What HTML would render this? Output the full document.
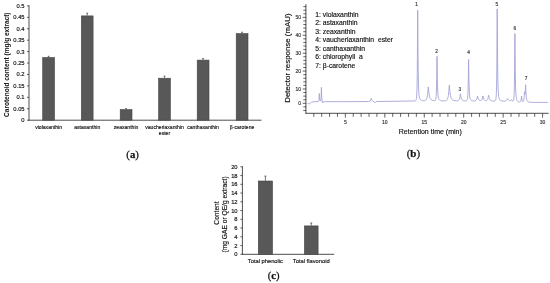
<!DOCTYPE html>
<html><head><meta charset="utf-8"><style>
html,body{margin:0;padding:0;background:#fff;}
body{width:550px;height:283px;overflow:hidden;}
svg{display:block;filter:blur(0.3px);}
</style></head><body>
<svg width="550" height="283" viewBox="0 0 550 283">
<rect width="550" height="283" fill="#fff"/>
<line x1="29.00" y1="5.20" x2="29.00" y2="120.70" stroke="#3a3a3a" stroke-width="0.9"/>
<line x1="28.50" y1="120.20" x2="261.50" y2="120.20" stroke="#3a3a3a" stroke-width="0.9"/>
<line x1="27.00" y1="120.20" x2="29.00" y2="120.20" stroke="#3a3a3a" stroke-width="0.8"/>
<text x="24.60" y="122.20" font-family="Liberation Sans" font-size="5.8" font-weight="400" text-anchor="end" fill="#111" stroke="#111" stroke-width="0.15">0</text>
<line x1="27.00" y1="108.77" x2="29.00" y2="108.77" stroke="#3a3a3a" stroke-width="0.8"/>
<text x="24.60" y="110.77" font-family="Liberation Sans" font-size="5.8" font-weight="400" text-anchor="end" fill="#111" stroke="#111" stroke-width="0.15">0.05</text>
<line x1="27.00" y1="97.34" x2="29.00" y2="97.34" stroke="#3a3a3a" stroke-width="0.8"/>
<text x="24.60" y="99.34" font-family="Liberation Sans" font-size="5.8" font-weight="400" text-anchor="end" fill="#111" stroke="#111" stroke-width="0.15">0.1</text>
<line x1="27.00" y1="85.91" x2="29.00" y2="85.91" stroke="#3a3a3a" stroke-width="0.8"/>
<text x="24.60" y="87.91" font-family="Liberation Sans" font-size="5.8" font-weight="400" text-anchor="end" fill="#111" stroke="#111" stroke-width="0.15">0.15</text>
<line x1="27.00" y1="74.48" x2="29.00" y2="74.48" stroke="#3a3a3a" stroke-width="0.8"/>
<text x="24.60" y="76.48" font-family="Liberation Sans" font-size="5.8" font-weight="400" text-anchor="end" fill="#111" stroke="#111" stroke-width="0.15">0.2</text>
<line x1="27.00" y1="63.05" x2="29.00" y2="63.05" stroke="#3a3a3a" stroke-width="0.8"/>
<text x="24.60" y="65.05" font-family="Liberation Sans" font-size="5.8" font-weight="400" text-anchor="end" fill="#111" stroke="#111" stroke-width="0.15">0.25</text>
<line x1="27.00" y1="51.62" x2="29.00" y2="51.62" stroke="#3a3a3a" stroke-width="0.8"/>
<text x="24.60" y="53.62" font-family="Liberation Sans" font-size="5.8" font-weight="400" text-anchor="end" fill="#111" stroke="#111" stroke-width="0.15">0.3</text>
<line x1="27.00" y1="40.19" x2="29.00" y2="40.19" stroke="#3a3a3a" stroke-width="0.8"/>
<text x="24.60" y="42.19" font-family="Liberation Sans" font-size="5.8" font-weight="400" text-anchor="end" fill="#111" stroke="#111" stroke-width="0.15">0.35</text>
<line x1="27.00" y1="28.76" x2="29.00" y2="28.76" stroke="#3a3a3a" stroke-width="0.8"/>
<text x="24.60" y="30.76" font-family="Liberation Sans" font-size="5.8" font-weight="400" text-anchor="end" fill="#111" stroke="#111" stroke-width="0.15">0.4</text>
<line x1="27.00" y1="17.33" x2="29.00" y2="17.33" stroke="#3a3a3a" stroke-width="0.8"/>
<text x="24.60" y="19.33" font-family="Liberation Sans" font-size="5.8" font-weight="400" text-anchor="end" fill="#111" stroke="#111" stroke-width="0.15">0.45</text>
<line x1="27.00" y1="5.90" x2="29.00" y2="5.90" stroke="#3a3a3a" stroke-width="0.8"/>
<text x="24.60" y="7.90" font-family="Liberation Sans" font-size="5.8" font-weight="400" text-anchor="end" fill="#111" stroke="#111" stroke-width="0.15">0.5</text>
<rect x="42.70" y="57.50" width="11.80" height="62.70" fill="#585858" stroke="#444" stroke-width="0.6"/>
<line x1="48.60" y1="56.30" x2="48.60" y2="57.20" stroke="#3a3a3a" stroke-width="0.7"/>
<line x1="47.70" y1="56.30" x2="49.50" y2="56.30" stroke="#3a3a3a" stroke-width="0.7"/>
<text x="48.60" y="128.60" font-family="Liberation Sans" font-size="5.1" font-weight="400" text-anchor="middle" fill="#111" stroke="#111" stroke-width="0.15">violaxanthin</text>
<rect x="81.30" y="15.90" width="11.80" height="104.30" fill="#585858" stroke="#444" stroke-width="0.6"/>
<line x1="87.20" y1="13.20" x2="87.20" y2="15.60" stroke="#3a3a3a" stroke-width="0.7"/>
<line x1="86.30" y1="13.20" x2="88.10" y2="13.20" stroke="#3a3a3a" stroke-width="0.7"/>
<text x="87.20" y="128.60" font-family="Liberation Sans" font-size="5.1" font-weight="400" text-anchor="middle" fill="#111" stroke="#111" stroke-width="0.15">astaxanthin</text>
<rect x="120.20" y="109.60" width="11.80" height="10.60" fill="#585858" stroke="#444" stroke-width="0.6"/>
<line x1="126.10" y1="108.60" x2="126.10" y2="109.30" stroke="#3a3a3a" stroke-width="0.7"/>
<line x1="125.20" y1="108.60" x2="127.00" y2="108.60" stroke="#3a3a3a" stroke-width="0.7"/>
<text x="126.10" y="128.60" font-family="Liberation Sans" font-size="5.1" font-weight="400" text-anchor="middle" fill="#111" stroke="#111" stroke-width="0.15">zeaxanthin</text>
<rect x="158.60" y="78.20" width="11.80" height="42.00" fill="#585858" stroke="#444" stroke-width="0.6"/>
<line x1="164.50" y1="76.10" x2="164.50" y2="77.90" stroke="#3a3a3a" stroke-width="0.7"/>
<line x1="163.60" y1="76.10" x2="165.40" y2="76.10" stroke="#3a3a3a" stroke-width="0.7"/>
<text x="164.50" y="128.60" font-family="Liberation Sans" font-size="5.1" font-weight="400" text-anchor="middle" fill="#111" stroke="#111" stroke-width="0.15">vaucheriaxanthin</text>
<rect x="197.20" y="60.10" width="11.80" height="60.10" fill="#585858" stroke="#444" stroke-width="0.6"/>
<line x1="203.10" y1="58.60" x2="203.10" y2="59.80" stroke="#3a3a3a" stroke-width="0.7"/>
<line x1="202.20" y1="58.60" x2="204.00" y2="58.60" stroke="#3a3a3a" stroke-width="0.7"/>
<text x="203.10" y="128.60" font-family="Liberation Sans" font-size="5.1" font-weight="400" text-anchor="middle" fill="#111" stroke="#111" stroke-width="0.15">canthaxanthin</text>
<rect x="236.20" y="33.60" width="11.80" height="86.60" fill="#585858" stroke="#444" stroke-width="0.6"/>
<line x1="242.10" y1="32.20" x2="242.10" y2="33.30" stroke="#3a3a3a" stroke-width="0.7"/>
<line x1="241.20" y1="32.20" x2="243.00" y2="32.20" stroke="#3a3a3a" stroke-width="0.7"/>
<text x="242.10" y="128.60" font-family="Liberation Sans" font-size="5.1" font-weight="400" text-anchor="middle" fill="#111" stroke="#111" stroke-width="0.15">β-carotene</text>
<text x="164.50" y="135.00" font-family="Liberation Sans" font-size="5.1" font-weight="400" text-anchor="middle" fill="#111" stroke="#111" stroke-width="0.15">ester</text>
<text x="9.00" y="64.70" font-family="Liberation Sans" font-size="6.5" font-weight="700" text-anchor="middle" fill="#111" transform="rotate(-90 9.00 64.70)">Carotenoid content (mg/g extract)</text>
<text x="132.60" y="157.50" font-family="Liberation Serif" font-size="10.7" font-weight="700" text-anchor="middle" fill="#111" stroke="#111" stroke-width="0.25"><tspan font-weight="400">(</tspan>a<tspan font-weight="400">)</tspan></text>
<line x1="305.90" y1="4.20" x2="305.90" y2="113.70" stroke="#3a3a3a" stroke-width="0.9"/>
<line x1="305.50" y1="113.30" x2="548.60" y2="113.30" stroke="#3a3a3a" stroke-width="0.9"/>
<line x1="303.30" y1="110.46" x2="306.20" y2="110.46" stroke="#3a3a3a" stroke-width="0.8"/>
<line x1="303.30" y1="106.88" x2="306.20" y2="106.88" stroke="#3a3a3a" stroke-width="0.8"/>
<line x1="302.70" y1="103.30" x2="306.20" y2="103.30" stroke="#3a3a3a" stroke-width="0.8"/>
<line x1="303.30" y1="99.72" x2="306.20" y2="99.72" stroke="#3a3a3a" stroke-width="0.8"/>
<line x1="303.30" y1="96.14" x2="306.20" y2="96.14" stroke="#3a3a3a" stroke-width="0.8"/>
<line x1="303.30" y1="92.56" x2="306.20" y2="92.56" stroke="#3a3a3a" stroke-width="0.8"/>
<line x1="302.70" y1="88.98" x2="306.20" y2="88.98" stroke="#3a3a3a" stroke-width="0.8"/>
<line x1="303.30" y1="85.40" x2="306.20" y2="85.40" stroke="#3a3a3a" stroke-width="0.8"/>
<line x1="303.30" y1="81.82" x2="306.20" y2="81.82" stroke="#3a3a3a" stroke-width="0.8"/>
<line x1="303.30" y1="78.24" x2="306.20" y2="78.24" stroke="#3a3a3a" stroke-width="0.8"/>
<line x1="303.30" y1="74.66" x2="306.20" y2="74.66" stroke="#3a3a3a" stroke-width="0.8"/>
<line x1="302.70" y1="71.08" x2="306.20" y2="71.08" stroke="#3a3a3a" stroke-width="0.8"/>
<line x1="303.30" y1="67.50" x2="306.20" y2="67.50" stroke="#3a3a3a" stroke-width="0.8"/>
<line x1="303.30" y1="63.92" x2="306.20" y2="63.92" stroke="#3a3a3a" stroke-width="0.8"/>
<line x1="303.30" y1="60.34" x2="306.20" y2="60.34" stroke="#3a3a3a" stroke-width="0.8"/>
<line x1="303.30" y1="56.76" x2="306.20" y2="56.76" stroke="#3a3a3a" stroke-width="0.8"/>
<line x1="302.70" y1="53.18" x2="306.20" y2="53.18" stroke="#3a3a3a" stroke-width="0.8"/>
<line x1="303.30" y1="49.60" x2="306.20" y2="49.60" stroke="#3a3a3a" stroke-width="0.8"/>
<line x1="303.30" y1="46.02" x2="306.20" y2="46.02" stroke="#3a3a3a" stroke-width="0.8"/>
<line x1="303.30" y1="42.44" x2="306.20" y2="42.44" stroke="#3a3a3a" stroke-width="0.8"/>
<line x1="303.30" y1="38.86" x2="306.20" y2="38.86" stroke="#3a3a3a" stroke-width="0.8"/>
<line x1="302.70" y1="35.28" x2="306.20" y2="35.28" stroke="#3a3a3a" stroke-width="0.8"/>
<line x1="303.30" y1="31.70" x2="306.20" y2="31.70" stroke="#3a3a3a" stroke-width="0.8"/>
<line x1="303.30" y1="28.12" x2="306.20" y2="28.12" stroke="#3a3a3a" stroke-width="0.8"/>
<line x1="303.30" y1="24.54" x2="306.20" y2="24.54" stroke="#3a3a3a" stroke-width="0.8"/>
<line x1="303.30" y1="20.96" x2="306.20" y2="20.96" stroke="#3a3a3a" stroke-width="0.8"/>
<line x1="302.70" y1="17.38" x2="306.20" y2="17.38" stroke="#3a3a3a" stroke-width="0.8"/>
<line x1="303.30" y1="13.80" x2="306.20" y2="13.80" stroke="#3a3a3a" stroke-width="0.8"/>
<line x1="303.30" y1="10.22" x2="306.20" y2="10.22" stroke="#3a3a3a" stroke-width="0.8"/>
<line x1="303.30" y1="6.64" x2="306.20" y2="6.64" stroke="#3a3a3a" stroke-width="0.8"/>
<text x="301.00" y="105.10" font-family="Liberation Sans" font-size="5.0" font-weight="400" text-anchor="end" fill="#333" stroke="#333" stroke-width="0.15">0</text>
<text x="301.00" y="90.78" font-family="Liberation Sans" font-size="5.0" font-weight="400" text-anchor="end" fill="#333" stroke="#333" stroke-width="0.15">10</text>
<text x="301.00" y="72.88" font-family="Liberation Sans" font-size="5.0" font-weight="400" text-anchor="end" fill="#333" stroke="#333" stroke-width="0.15">20</text>
<text x="301.00" y="54.98" font-family="Liberation Sans" font-size="5.0" font-weight="400" text-anchor="end" fill="#333" stroke="#333" stroke-width="0.15">30</text>
<text x="301.00" y="37.08" font-family="Liberation Sans" font-size="5.0" font-weight="400" text-anchor="end" fill="#333" stroke="#333" stroke-width="0.15">40</text>
<text x="301.00" y="19.18" font-family="Liberation Sans" font-size="5.0" font-weight="400" text-anchor="end" fill="#333" stroke="#333" stroke-width="0.15">50</text>
<line x1="313.79" y1="113.30" x2="313.79" y2="116.80" stroke="#3a3a3a" stroke-width="0.8"/>
<line x1="321.68" y1="113.30" x2="321.68" y2="116.80" stroke="#3a3a3a" stroke-width="0.8"/>
<line x1="329.57" y1="113.30" x2="329.57" y2="116.80" stroke="#3a3a3a" stroke-width="0.8"/>
<line x1="337.46" y1="113.30" x2="337.46" y2="116.80" stroke="#3a3a3a" stroke-width="0.8"/>
<line x1="345.35" y1="113.30" x2="345.35" y2="117.60" stroke="#3a3a3a" stroke-width="0.8"/>
<text x="345.35" y="124.10" font-family="Liberation Sans" font-size="5.0" font-weight="400" text-anchor="middle" fill="#333" stroke="#333" stroke-width="0.15">5</text>
<line x1="353.24" y1="113.30" x2="353.24" y2="116.80" stroke="#3a3a3a" stroke-width="0.8"/>
<line x1="361.13" y1="113.30" x2="361.13" y2="116.80" stroke="#3a3a3a" stroke-width="0.8"/>
<line x1="369.02" y1="113.30" x2="369.02" y2="116.80" stroke="#3a3a3a" stroke-width="0.8"/>
<line x1="376.91" y1="113.30" x2="376.91" y2="116.80" stroke="#3a3a3a" stroke-width="0.8"/>
<line x1="384.80" y1="113.30" x2="384.80" y2="117.60" stroke="#3a3a3a" stroke-width="0.8"/>
<text x="384.80" y="124.10" font-family="Liberation Sans" font-size="5.0" font-weight="400" text-anchor="middle" fill="#333" stroke="#333" stroke-width="0.15">10</text>
<line x1="392.69" y1="113.30" x2="392.69" y2="116.80" stroke="#3a3a3a" stroke-width="0.8"/>
<line x1="400.58" y1="113.30" x2="400.58" y2="116.80" stroke="#3a3a3a" stroke-width="0.8"/>
<line x1="408.47" y1="113.30" x2="408.47" y2="116.80" stroke="#3a3a3a" stroke-width="0.8"/>
<line x1="416.36" y1="113.30" x2="416.36" y2="116.80" stroke="#3a3a3a" stroke-width="0.8"/>
<line x1="424.25" y1="113.30" x2="424.25" y2="117.60" stroke="#3a3a3a" stroke-width="0.8"/>
<text x="424.25" y="124.10" font-family="Liberation Sans" font-size="5.0" font-weight="400" text-anchor="middle" fill="#333" stroke="#333" stroke-width="0.15">15</text>
<line x1="432.14" y1="113.30" x2="432.14" y2="116.80" stroke="#3a3a3a" stroke-width="0.8"/>
<line x1="440.03" y1="113.30" x2="440.03" y2="116.80" stroke="#3a3a3a" stroke-width="0.8"/>
<line x1="447.92" y1="113.30" x2="447.92" y2="116.80" stroke="#3a3a3a" stroke-width="0.8"/>
<line x1="455.81" y1="113.30" x2="455.81" y2="116.80" stroke="#3a3a3a" stroke-width="0.8"/>
<line x1="463.70" y1="113.30" x2="463.70" y2="117.60" stroke="#3a3a3a" stroke-width="0.8"/>
<text x="463.70" y="124.10" font-family="Liberation Sans" font-size="5.0" font-weight="400" text-anchor="middle" fill="#333" stroke="#333" stroke-width="0.15">20</text>
<line x1="471.59" y1="113.30" x2="471.59" y2="116.80" stroke="#3a3a3a" stroke-width="0.8"/>
<line x1="479.48" y1="113.30" x2="479.48" y2="116.80" stroke="#3a3a3a" stroke-width="0.8"/>
<line x1="487.37" y1="113.30" x2="487.37" y2="116.80" stroke="#3a3a3a" stroke-width="0.8"/>
<line x1="495.26" y1="113.30" x2="495.26" y2="116.80" stroke="#3a3a3a" stroke-width="0.8"/>
<line x1="503.15" y1="113.30" x2="503.15" y2="117.60" stroke="#3a3a3a" stroke-width="0.8"/>
<text x="503.15" y="124.10" font-family="Liberation Sans" font-size="5.0" font-weight="400" text-anchor="middle" fill="#333" stroke="#333" stroke-width="0.15">25</text>
<line x1="511.04" y1="113.30" x2="511.04" y2="116.80" stroke="#3a3a3a" stroke-width="0.8"/>
<line x1="518.93" y1="113.30" x2="518.93" y2="116.80" stroke="#3a3a3a" stroke-width="0.8"/>
<line x1="526.82" y1="113.30" x2="526.82" y2="116.80" stroke="#3a3a3a" stroke-width="0.8"/>
<line x1="534.71" y1="113.30" x2="534.71" y2="116.80" stroke="#3a3a3a" stroke-width="0.8"/>
<line x1="542.60" y1="113.30" x2="542.60" y2="117.60" stroke="#3a3a3a" stroke-width="0.8"/>
<text x="542.60" y="124.10" font-family="Liberation Sans" font-size="5.0" font-weight="400" text-anchor="middle" fill="#333" stroke="#333" stroke-width="0.15">30</text>
<text x="430.30" y="134.10" font-family="Liberation Sans" font-size="7.0" font-weight="400" text-anchor="middle" fill="#111" stroke="#111" stroke-width="0.15">Retention time (min)</text>
<text x="290.40" y="58.05" font-family="Liberation Sans" font-size="7.9" font-weight="400" text-anchor="middle" fill="#111" stroke="#111" stroke-width="0.15" transform="rotate(-90 290.40 58.05)">Detector response (mAU)</text>
<text x="315.20" y="17.00" font-family="Liberation Sans" font-size="6.8" font-weight="400" text-anchor="start" fill="#111" stroke="#111" stroke-width="0.15">1: violaxanthin</text>
<text x="315.20" y="25.47" font-family="Liberation Sans" font-size="6.8" font-weight="400" text-anchor="start" fill="#111" stroke="#111" stroke-width="0.15">2: astaxanthin</text>
<text x="315.20" y="33.94" font-family="Liberation Sans" font-size="6.8" font-weight="400" text-anchor="start" fill="#111" stroke="#111" stroke-width="0.15">3: zeaxanthin</text>
<text x="315.20" y="42.41" font-family="Liberation Sans" font-size="6.8" font-weight="400" text-anchor="start" fill="#111" stroke="#111" stroke-width="0.15">4: vaucheriaxanthin&#160; ester</text>
<text x="315.20" y="50.88" font-family="Liberation Sans" font-size="6.8" font-weight="400" text-anchor="start" fill="#111" stroke="#111" stroke-width="0.15">5: canthaxanthin</text>
<text x="315.20" y="59.35" font-family="Liberation Sans" font-size="6.8" font-weight="400" text-anchor="start" fill="#111" stroke="#111" stroke-width="0.15">6: chlorophyll&#160; a</text>
<text x="315.20" y="67.82" font-family="Liberation Sans" font-size="6.8" font-weight="400" text-anchor="start" fill="#111" stroke="#111" stroke-width="0.15">7: β-carotene</text>
<path d="M307.70,103.3 309.50,103.9 311.50,102.2 314.00,101.7 317.75,101.7 318.20,101.6 318.45,101.5 318.60,101.3 318.75,100.9 318.95,99.8 319.15,97.1 319.30,93.5 319.50,97.3 319.75,99.7 319.90,100.4 320.05,100.8 320.25,101.1 320.40,101.1 320.50,101.0 320.65,100.8 320.80,100.2 321.05,97.9 321.25,93.3 321.40,87.4 321.60,93.7 321.85,98.2 322.15,100.6 322.70,103.0 323.10,102.3 323.45,102.0 323.90,101.8 324.65,101.7 360.00,101.6 368.80,101.5 369.70,101.3 370.05,101.0 370.30,100.8 370.75,99.9 371.20,98.3 371.70,99.8 372.20,100.6 372.70,101.1 374.05,101.9 374.40,102.2 374.80,102.8 375.40,102.2 376.05,101.8 376.85,101.6 378.00,101.5 412.90,101.0 414.90,100.9 415.35,100.8 415.70,100.6 416.00,100.2 416.25,99.5 416.45,98.4 416.60,97.0 416.85,92.8 417.05,86.2 417.25,74.3 417.40,59.7 417.70,10.1 418.05,57.4 418.25,73.1 418.50,84.7 418.75,91.0 419.10,95.5 419.30,96.8 419.60,98.1 419.95,98.9 420.35,99.5 420.95,100.1 421.65,100.4 422.55,100.7 423.65,100.7 424.60,100.7 425.30,100.5 425.85,100.2 426.30,99.6 426.60,99.0 426.90,98.2 427.40,95.8 427.85,92.2 428.30,86.9 428.80,91.8 429.25,94.9 429.80,97.3 430.10,98.2 430.45,98.9 430.95,99.6 431.50,100.0 432.20,100.3 433.10,100.5 434.15,100.6 434.85,100.6 435.30,100.3 435.60,99.7 435.90,98.4 436.10,96.7 436.30,93.6 436.45,90.0 436.75,76.5 437.00,56.3 437.35,78.4 437.55,86.1 437.80,92.0 438.05,95.3 438.40,97.8 438.60,98.6 438.85,99.2 439.15,99.7 439.55,100.1 440.30,100.4 441.35,100.7 442.80,100.9 444.50,100.9 445.45,100.8 446.15,100.6 446.70,100.3 447.15,99.7 447.50,99.1 447.85,98.1 448.15,96.7 448.40,95.2 448.85,91.2 449.30,85.2 449.90,91.6 450.20,93.9 450.50,95.6 450.85,97.1 451.25,98.3 451.70,99.1 452.25,99.8 452.75,100.1 453.35,100.4 454.10,100.5 455.10,100.7 456.45,100.8 457.45,100.8 458.10,100.7 458.60,100.4 458.90,100.1 459.20,99.7 459.65,98.4 460.00,96.7 460.40,93.8 460.80,96.3 461.20,98.0 461.65,99.2 462.20,100.0 462.65,100.4 463.15,100.6 463.85,100.8 464.75,100.9 465.70,100.9 466.30,100.8 466.70,100.7 467.00,100.4 467.35,99.5 467.60,98.1 467.80,95.9 468.00,92.2 468.30,81.1 468.60,59.5 468.95,80.1 469.30,90.9 469.55,94.8 469.80,97.1 470.10,98.6 470.30,99.2 470.55,99.6 470.90,100.1 471.30,100.4 471.85,100.6 472.50,100.8 473.40,100.9 474.30,101.0 475.00,100.9 475.55,100.7 476.15,100.2 476.65,99.4 477.05,98.2 477.50,96.1 478.15,98.5 478.45,99.2 478.80,99.8 479.25,100.2 479.75,100.5 480.30,100.6 480.85,100.6 481.20,100.4 481.50,100.2 481.80,99.8 482.05,99.3 482.45,98.0 482.90,95.9 483.55,98.3 483.90,99.2 484.25,99.8 484.70,100.3 485.20,100.5 485.80,100.7 486.35,100.7 486.75,100.5 487.10,100.2 487.40,99.8 487.65,99.3 488.15,97.7 488.60,95.3 489.05,97.4 489.45,98.7 489.90,99.6 490.45,100.3 491.20,100.7 492.25,101.0 494.05,101.1 494.60,101.1 495.00,101.0 495.40,100.6 495.65,100.1 495.85,99.2 496.05,97.8 496.35,92.9 496.55,86.2 496.75,74.1 496.90,59.4 497.20,8.9 497.55,57.0 497.75,72.9 497.95,82.9 498.20,90.2 498.50,94.8 498.70,96.5 498.90,97.6 499.15,98.6 499.50,99.4 500.10,100.2 500.90,100.7 501.95,101.0 503.30,101.1 505.05,101.1 505.65,100.9 506.15,100.7 506.55,100.4 506.90,100.0 507.25,99.4 507.60,98.6 508.10,99.5 508.55,100.0 509.10,100.5 509.70,100.7 510.30,100.7 510.70,100.6 511.05,100.3 511.40,99.7 511.75,100.3 512.10,100.8 512.50,101.0 512.90,101.1 513.10,101.0 513.30,100.7 513.60,99.9 513.85,98.2 514.05,95.5 514.25,90.6 514.40,84.4 514.65,66.1 514.90,33.5 515.25,69.2 515.60,86.8 515.80,92.0 516.10,96.3 516.45,98.8 516.70,99.7 516.95,100.4 517.20,100.8 517.55,101.2 517.95,101.5 518.45,101.8 519.05,102.0 519.60,102.1 520.00,102.0 520.30,101.8 520.50,101.6 520.70,101.2 521.00,100.1 521.25,98.5 521.50,96.1 521.90,99.1 522.30,100.8 522.60,101.4 522.90,101.7 523.05,101.7 523.20,101.6 523.45,101.3 523.65,100.8 523.80,100.2 524.05,98.6 524.25,96.3 524.50,91.9 524.80,94.1 524.90,94.2 524.95,94.2 525.10,93.5 525.35,90.4 525.60,84.7 526.00,93.1 526.40,97.6 526.65,99.2 526.95,100.4 527.30,101.1 527.75,101.6 528.30,101.9 529.00,102.1 531.60,102.3 535.35,102.4 548.00,102.4" fill="none" stroke="#a4a4d8" stroke-width="0.9" stroke-linejoin="round"/>
<text x="416.60" y="5.60" font-family="Liberation Sans" font-size="4.8" font-weight="400" text-anchor="middle" fill="#333" stroke="#333" stroke-width="0.15">1</text>
<text x="436.60" y="53.00" font-family="Liberation Sans" font-size="4.8" font-weight="400" text-anchor="middle" fill="#333" stroke="#333" stroke-width="0.15">2</text>
<text x="459.80" y="90.50" font-family="Liberation Sans" font-size="4.8" font-weight="400" text-anchor="middle" fill="#333" stroke="#333" stroke-width="0.15">3</text>
<text x="468.60" y="54.00" font-family="Liberation Sans" font-size="4.8" font-weight="400" text-anchor="middle" fill="#333" stroke="#333" stroke-width="0.15">4</text>
<text x="496.90" y="5.60" font-family="Liberation Sans" font-size="4.8" font-weight="400" text-anchor="middle" fill="#333" stroke="#333" stroke-width="0.15">5</text>
<text x="514.80" y="29.80" font-family="Liberation Sans" font-size="4.8" font-weight="400" text-anchor="middle" fill="#333" stroke="#333" stroke-width="0.15">6</text>
<text x="526.20" y="80.40" font-family="Liberation Sans" font-size="4.8" font-weight="400" text-anchor="middle" fill="#333" stroke="#333" stroke-width="0.15">7</text>
<text x="413.40" y="157.30" font-family="Liberation Serif" font-size="10.9" font-weight="700" text-anchor="middle" fill="#111" stroke="#111" stroke-width="0.25"><tspan font-weight="400">(</tspan>b<tspan font-weight="400">)</tspan></text>
<line x1="242.40" y1="166.20" x2="242.40" y2="254.70" stroke="#3a3a3a" stroke-width="0.9"/>
<line x1="242.00" y1="254.30" x2="334.20" y2="254.30" stroke="#3a3a3a" stroke-width="0.9"/>
<line x1="240.40" y1="254.30" x2="242.40" y2="254.30" stroke="#3a3a3a" stroke-width="0.8"/>
<text x="237.60" y="256.30" font-family="Liberation Sans" font-size="5.8" font-weight="400" text-anchor="end" fill="#111" stroke="#111" stroke-width="0.15">0</text>
<line x1="240.40" y1="245.55" x2="242.40" y2="245.55" stroke="#3a3a3a" stroke-width="0.8"/>
<text x="237.60" y="247.55" font-family="Liberation Sans" font-size="5.8" font-weight="400" text-anchor="end" fill="#111" stroke="#111" stroke-width="0.15">2</text>
<line x1="240.40" y1="236.80" x2="242.40" y2="236.80" stroke="#3a3a3a" stroke-width="0.8"/>
<text x="237.60" y="238.80" font-family="Liberation Sans" font-size="5.8" font-weight="400" text-anchor="end" fill="#111" stroke="#111" stroke-width="0.15">4</text>
<line x1="240.40" y1="228.05" x2="242.40" y2="228.05" stroke="#3a3a3a" stroke-width="0.8"/>
<text x="237.60" y="230.05" font-family="Liberation Sans" font-size="5.8" font-weight="400" text-anchor="end" fill="#111" stroke="#111" stroke-width="0.15">6</text>
<line x1="240.40" y1="219.30" x2="242.40" y2="219.30" stroke="#3a3a3a" stroke-width="0.8"/>
<text x="237.60" y="221.30" font-family="Liberation Sans" font-size="5.8" font-weight="400" text-anchor="end" fill="#111" stroke="#111" stroke-width="0.15">8</text>
<line x1="240.40" y1="210.55" x2="242.40" y2="210.55" stroke="#3a3a3a" stroke-width="0.8"/>
<text x="237.60" y="212.55" font-family="Liberation Sans" font-size="5.8" font-weight="400" text-anchor="end" fill="#111" stroke="#111" stroke-width="0.15">10</text>
<line x1="240.40" y1="201.80" x2="242.40" y2="201.80" stroke="#3a3a3a" stroke-width="0.8"/>
<text x="237.60" y="203.80" font-family="Liberation Sans" font-size="5.8" font-weight="400" text-anchor="end" fill="#111" stroke="#111" stroke-width="0.15">12</text>
<line x1="240.40" y1="193.05" x2="242.40" y2="193.05" stroke="#3a3a3a" stroke-width="0.8"/>
<text x="237.60" y="195.05" font-family="Liberation Sans" font-size="5.8" font-weight="400" text-anchor="end" fill="#111" stroke="#111" stroke-width="0.15">14</text>
<line x1="240.40" y1="184.30" x2="242.40" y2="184.30" stroke="#3a3a3a" stroke-width="0.8"/>
<text x="237.60" y="186.30" font-family="Liberation Sans" font-size="5.8" font-weight="400" text-anchor="end" fill="#111" stroke="#111" stroke-width="0.15">16</text>
<line x1="240.40" y1="175.55" x2="242.40" y2="175.55" stroke="#3a3a3a" stroke-width="0.8"/>
<text x="237.60" y="177.55" font-family="Liberation Sans" font-size="5.8" font-weight="400" text-anchor="end" fill="#111" stroke="#111" stroke-width="0.15">18</text>
<line x1="240.40" y1="166.80" x2="242.40" y2="166.80" stroke="#3a3a3a" stroke-width="0.8"/>
<text x="237.60" y="168.80" font-family="Liberation Sans" font-size="5.8" font-weight="400" text-anchor="end" fill="#111" stroke="#111" stroke-width="0.15">20</text>
<rect x="258.30" y="181.00" width="14.20" height="73.30" fill="#585858" stroke="#444" stroke-width="0.6"/>
<line x1="265.40" y1="176.10" x2="265.40" y2="180.70" stroke="#3a3a3a" stroke-width="0.7"/>
<line x1="264.40" y1="176.10" x2="266.40" y2="176.10" stroke="#3a3a3a" stroke-width="0.7"/>
<text x="265.40" y="263.10" font-family="Liberation Sans" font-size="5.75" font-weight="400" text-anchor="middle" fill="#111" stroke="#111" stroke-width="0.15">Total phenolic</text>
<rect x="304.40" y="225.90" width="13.70" height="28.40" fill="#585858" stroke="#444" stroke-width="0.6"/>
<line x1="311.25" y1="223.00" x2="311.25" y2="225.60" stroke="#3a3a3a" stroke-width="0.7"/>
<line x1="310.25" y1="223.00" x2="312.25" y2="223.00" stroke="#3a3a3a" stroke-width="0.7"/>
<text x="311.25" y="263.10" font-family="Liberation Sans" font-size="5.75" font-weight="400" text-anchor="middle" fill="#111" stroke="#111" stroke-width="0.15">Total flavonoid</text>
<text x="219.40" y="213.00" font-family="Liberation Sans" font-size="6.65" font-weight="400" text-anchor="middle" fill="#111" stroke="#111" stroke-width="0.15" transform="rotate(-90 219.40 213.00)">Content</text>
<text x="227.30" y="214.40" font-family="Liberation Sans" font-size="6.65" font-weight="400" text-anchor="middle" fill="#111" stroke="#111" stroke-width="0.15" transform="rotate(-90 227.30 214.40)">(mg GAE or QE/g extract)</text>
<text x="273.70" y="278.60" font-family="Liberation Serif" font-size="10.6" font-weight="700" text-anchor="middle" fill="#111" stroke="#111" stroke-width="0.25"><tspan font-weight="400">(</tspan>c<tspan font-weight="400">)</tspan></text>
</svg>
</body></html>
